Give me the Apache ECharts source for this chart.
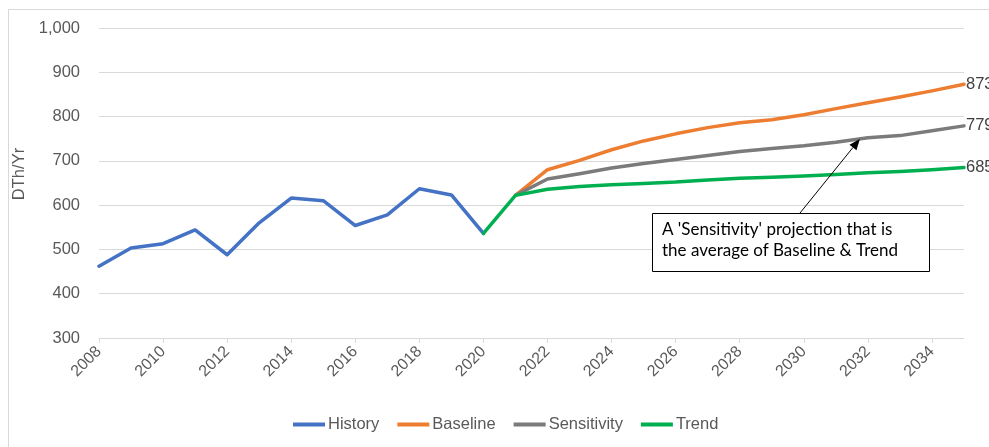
<!DOCTYPE html>
<html>
<head>
<meta charset="utf-8">
<script src="https://cdn.jsdelivr.net/npm/echarts@6/dist/echarts.min.js"></script>
<style>
  html, body { margin: 0; padding: 0; background: #fff; }
  #chart { width: 989px; height: 447px; }
</style>
</head>
<body>
<div id="chart"></div>
<script>
// Annual demand, DTh/Yr
const years = [];
for (let y = 2008; y <= 2035; y++) years.push(String(y));

// 2008–2020 actuals
const historyValues = [462, 503, 513, 544, 488, 560, 616, 610, 554, 578, 637, 623, 536];
// 2021–2035 projections
const baselineValues = [622, 680, 701, 725, 745, 761, 775, 786, 793, 804, 818, 831, 844, 858, 873];
const sensitivityValues = [622, 659, 671, 684, 694, 703, 712, 721, 728, 734, 742, 752, 757, 768, 779];
// Trend starts from the last actual year (2020)
const trendValues = [536, 622, 636, 642, 646, 649, 652, 657, 661, 663, 666, 669, 673, 676, 680, 685];

const yTicks = { min: 300, max: 1000, interval: 100 };
const noteLines = ["A 'Sensitivity' projection that is", "the average of Baseline & Trend"];
const noteTarget = { year: 2031.75, series: 'Sensitivity' };

function pad(values, startYear) {
  const out = years.map(() => null);
  const off = Number(startYear) - 2008;
  values.forEach((v, i) => { out[off + i] = v; });
  return out;
}

const seriesDefs = [
  { name: 'History', color: '#4472C4', data: pad(historyValues, 2008), end: false },
  { name: 'Baseline', color: '#ED7D31', data: pad(baselineValues, 2021), end: true },
  { name: 'Sensitivity', color: '#7B7B7B', data: pad(sensitivityValues, 2021), end: true },
  { name: 'Trend', color: '#00B050', data: pad(trendValues, 2020), end: true }
];

const chart = echarts.init(document.getElementById('chart'));
const txt = '#595959';
const font = 'Liberation Sans, Arial, sans-serif';

chart.setOption({
  animation: false,
  textStyle: { fontFamily: font },
  grid: { left: 99, right: 25, top: 28, bottom: 109, containLabel: false },
  xAxis: {
    type: 'category',
    data: years,
    boundaryGap: false,
    axisLine: { lineStyle: { color: '#d9d9d9', width: 1 } },
    axisTick: { show: true, interval: 1, length: 5, lineStyle: { color: '#d9d9d9' } },
    axisLabel: { interval: 1, rotate: 45, color: txt, fontSize: 16, margin: 11, fontFamily: font },
    splitLine: { show: false }
  },
  yAxis: {
    type: 'value',
    min: yTicks.min, max: yTicks.max, interval: yTicks.interval,
    name: 'DTh/Yr',
    nameLocation: 'middle',
    nameGap: 69,
    nameRotate: 90,
    nameTextStyle: { color: txt, fontSize: 16.5, fontFamily: font, padding: [0, 0, 0, 18] },
    axisLine: { show: false },
    axisTick: { show: false },
    axisLabel: {
      color: txt, fontSize: 16.5, margin: 19, fontFamily: font,
      formatter: v => v.toLocaleString('en-US')
    },
    splitLine: { lineStyle: { color: '#d9d9d9', width: 1 } }
  },
  legend: {
    bottom: 9,
    left: 288,
    itemWidth: 32,
    itemHeight: 4,
    itemGap: 18,
    icon: 'rect',
    textStyle: { color: txt, fontSize: 16.5, fontFamily: font, padding: [0, 0, 0, -2] },
    data: seriesDefs.map(s => ({ name: s.name, itemStyle: { color: s.color } }))
  },
  series: seriesDefs.map(s => ({
    name: s.name,
    type: 'line',
    data: s.data,
    color: s.color,
    showSymbol: false,
    symbol: 'none',
    connectNulls: false,
    lineStyle: { color: s.color, width: 3.5, cap: 'round', join: 'round' },
    endLabel: s.end ? {
      show: true, distance: 2, color: '#404040', fontSize: 16.5, fontFamily: font,
      formatter: p => String(p.value)
    } : { show: false }
  }))
});

// Annotation callout pointing at the Sensitivity line
function drawNote() {
  const idx = noteTarget.year - 2008;
  const i0 = Math.floor(idx), t = idx - i0;
  const s = seriesDefs.find(d => d.name === noteTarget.series).data;
  const v = s[i0] + (s[i0 + 1] - s[i0]) * t;
  const p0 = chart.convertToPixel({ gridIndex: 0 }, [i0, v]);
  const p1 = chart.convertToPixel({ gridIndex: 0 }, [i0 + 1, v]);
  const tip = [p0[0] + (p1[0] - p0[0]) * t, p0[1]];

  const box = { x: 652, y: 213, w: 277, h: 58 };
  const tail = [800, box.y];
  const ang = Math.atan2(tip[1] - tail[1], tip[0] - tail[0]);
  const L = 11, W = 4.5;
  const base = [tip[0] - L * Math.cos(ang), tip[1] - L * Math.sin(ang)];
  const nx = -Math.sin(ang), ny = Math.cos(ang);

  chart.setOption({
    graphic: [
      {
        type: 'rect', silent: true, z: 0,
        shape: { x: 8.5, y: 9.5, width: 1200, height: 600 },
        style: { fill: 'none', stroke: '#d9d9d9', lineWidth: 1 }
      },
      {
        type: 'line', z: 100,
        shape: { x1: tail[0], y1: tail[1], x2: base[0], y2: base[1] },
        style: { stroke: '#000', lineWidth: 1 }
      },
      {
        type: 'polygon', z: 100,
        shape: { points: [tip, [base[0] + nx * W, base[1] + ny * W], [base[0] - nx * W, base[1] - ny * W]] },
        style: { fill: '#000' }
      },
      {
        type: 'rect', z: 100,
        shape: { x: box.x + 0.5, y: box.y + 0.5, width: box.w, height: box.h },
        style: { fill: '#fff', stroke: '#000', lineWidth: 1 }
      },
      {
        type: 'text', z: 101,
        left: box.x + 10, top: box.y + 6,
        style: {
          text: noteLines.join('\n'), fill: '#000', fontSize: 17, lineHeight: 21,
          fontFamily: 'Lato, Noto Sans, sans-serif'
        }
      }
    ]
  });
}
drawNote();
</script>
</body>
</html>
